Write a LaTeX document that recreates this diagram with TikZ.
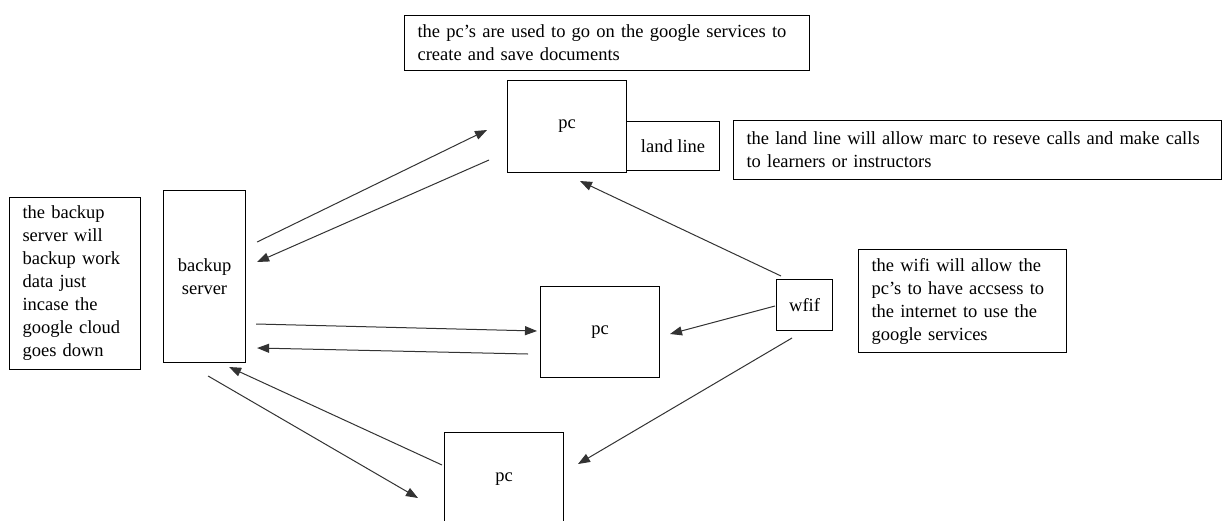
\documentclass[tikz,border=0pt]{standalone}
\usepackage{fontspec}
\setmainfont{Liberation Serif}
\usetikzlibrary{arrows.meta,calc}
\newcommand{\ap}{\char"27\relax}
\begin{document}
\begin{tikzpicture}[x=1pt,y=-1pt,
  box/.style={draw=black, line width=1.1pt, rectangle, inner sep=0pt, anchor=north west, font=\fontsize{18.5}{23}\selectfont},
  note/.style={box, align=left, inner xsep=13pt, inner ysep=0pt},
  conn/.style={draw=black!80, line width=1pt, -{Triangle[length=12pt,width=9pt]}}]
\useasboundingbox (0,0) rectangle (1223,520);
\fill[white] (0,0) rectangle (1223,520);
% notes
\node[note, text width=379pt, minimum height=55pt] (ntop) at (404,15)
  {the pc\ap s are used to go on the google services to\\create and save documents};
\node[note, text width=462pt, minimum height=59pt] (nland) at (733,120)
  {the land line will allow marc to reseve calls and make calls\\to learners or instructors};
\node[note, text width=105pt, minimum height=172pt] (nbs) at (9,197)
  {the backup\\server will\\backup work\\data just\\incase the\\google cloud\\goes down};
\node[note, text width=182pt, minimum height=103pt] (nwifi) at (858,249)
  {the wifi will allow the\\pc\ap s to have accsess to\\the internet to use the\\google services};
% devices
\node[box, minimum width=119pt, minimum height=92pt] (pc1) at (507,80) {pc};
\node[box, minimum width=93pt, minimum height=49pt] (land) at (626,121) {land line};
\node[box, minimum width=82pt, minimum height=172pt, align=center] (bs) at (163,190) {backup\\server};
\node[box, minimum width=119pt, minimum height=91pt] (pc2) at (540,286) {pc};
\node[box, minimum width=56pt, minimum height=51pt] (wf) at (776,279) {wfif};
\node[box, minimum width=119pt, minimum height=93pt] (pc3) at (444,432) {pc};
% connectors
\draw[conn] ($(bs.north east)+(11,52)$) -- ($(pc1.north west)+(-20,50)$);
\draw[conn] ($(pc1.north west)+(-18,80)$) -- ($(bs.north east)+(11,72)$);
\draw[conn] ($(bs.north east)+(10,134)$) -- ($(pc2.north west)+(-3,45)$);
\draw[conn] ($(pc2.north west)+(-12,68)$) -- ($(bs.north east)+(11,158)$);
\draw[conn] ($(bs.north east)+(-38,186)$) -- ($(pc3.north west)+(-26,66)$);
\draw[conn] ($(pc3.north west)+(-2,33)$) -- ($(bs.north east)+(-17,177)$);
\draw[conn] ($(wf.north west)+(5,-3)$) -- ($(pc1.north west)+(73,101)$);
\draw[conn] ($(wf.north west)+(-1,27)$) -- ($(pc2.north west)+(130,48)$);
\draw[conn] ($(wf.north west)+(16,59)$) -- ($(pc3.north west)+(134,32)$);
\end{tikzpicture}
\end{document}
